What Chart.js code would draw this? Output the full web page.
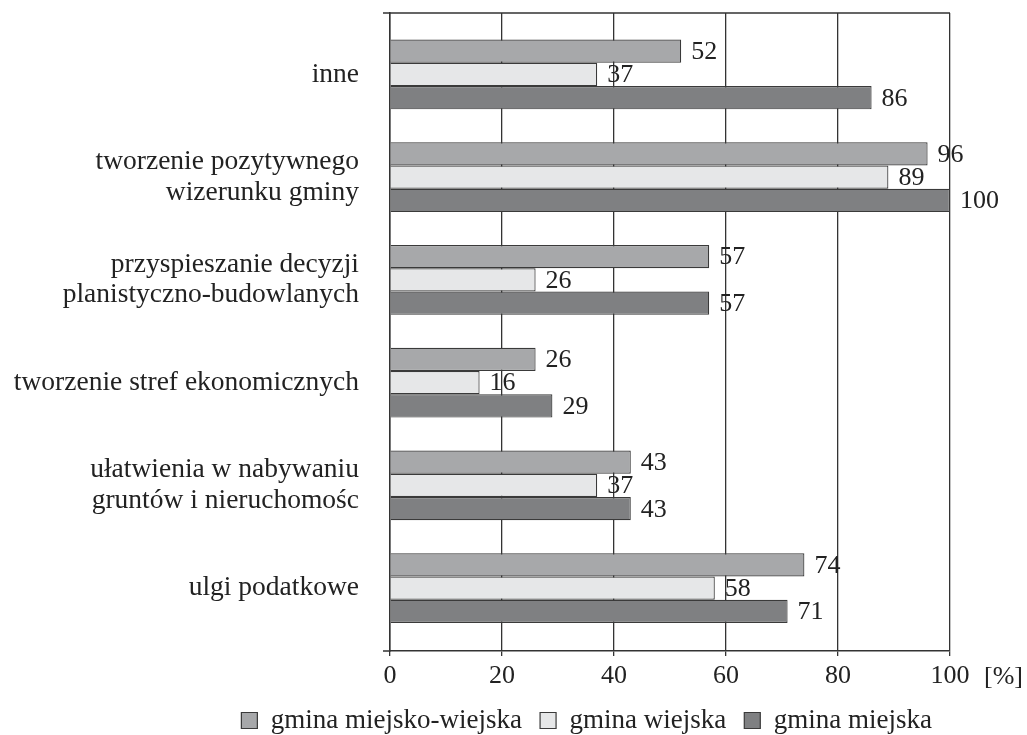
<!DOCTYPE html>
<html>
<head>
<meta charset="utf-8">
<script src="https://cdn.jsdelivr.net/npm/chart.js@4"></script>
<style>
  body { margin: 0; background: #fff; }
</style>
</head>
<body>
<canvas id="myChart" width="1027" height="735"></canvas>
<script>
const categories = [
  "inne",
  ["tworzenie pozytywnego", "wizerunku gminy"],
  ["przyspieszanie decyzji", "planistyczno-budowlanych"],
  "tworzenie stref ekonomicznych",
  ["ułatwienia w nabywaniu", "gruntów i nieruchomośc"],
  "ulgi podatkowe"
];
const seriesNames = ["gmina miejsko-wiejska", "gmina wiejska", "gmina miejska"];
const miejskoWiejska = [52, 96, 57, 26, 43, 74];
const wiejska = [37, 89, 26, 16, 37, 58];
const miejska = [86, 100, 57, 29, 43, 71];
const xTicks = [0, 20, 40, 60, 80, 100];

const barColors = ["#a7a8aa", "#e6e7e8", "#7f8082"];
const lineColor = "#333333";
const fontFamily = "'Liberation Serif', serif";

// value labels next to the bar ends
const valueLabels = {
  id: "valueLabels",
  afterDatasetsDraw(chart) {
    const ctx = chart.ctx;
    ctx.save();
    ctx.font = "26px " + fontFamily;
    ctx.fillStyle = "#222";
    ctx.textAlign = "left";
    ctx.textBaseline = "middle";
    chart.data.datasets.forEach((ds, i) => {
      chart.getDatasetMeta(i).data.forEach((bar, j) => {
        ctx.fillText(ds.data[j], bar.x + 10, bar.y + 1);
      });
    });
    ctx.restore();
  }
};

// top frame line, small axis extensions and the unit label
const frame = {
  id: "frame",
  afterDraw(chart) {
    const a = chart.chartArea;
    const ctx = chart.ctx;
    ctx.save();
    ctx.strokeStyle = lineColor;
    ctx.lineWidth = 1.5;
    ctx.beginPath();
    ctx.moveTo(a.left - 7, a.top);
    ctx.lineTo(a.right, a.top);
    ctx.moveTo(a.left - 7, a.bottom);
    ctx.lineTo(a.left, a.bottom);
    ctx.stroke();
    ctx.font = "26px " + fontFamily;
    ctx.fillStyle = "#222";
    ctx.textAlign = "left";
    ctx.textBaseline = "middle";
    ctx.fillText("[%]", a.right + 34, a.bottom + 26);
    ctx.restore();
  }
};

new Chart(document.getElementById("myChart").getContext("2d"), {
  type: "bar",
  data: {
    labels: categories,
    datasets: [
      { label: seriesNames[0], data: miejskoWiejska, backgroundColor: barColors[0] },
      { label: seriesNames[1], data: wiejska, backgroundColor: barColors[1] },
      { label: seriesNames[2], data: miejska, backgroundColor: barColors[2] }
    ]
  },
  options: {
    indexAxis: "y",
    responsive: false,
    animation: false,
    layout: { padding: { top: 13, right: 77, left: 0, bottom: -9 } },
    datasets: {
      bar: {
        borderColor: "#3a3a3a",
        borderWidth: 1.2,
        categoryPercentage: 0.68,
        barPercentage: 1
      }
    },
    scales: {
      x: {
        min: 0,
        max: 100,
        afterBuildTicks: (s) => { s.ticks = xTicks.map((v) => ({ value: v })); },
        afterFit: (s) => { s.height = 38; },
        grid: { color: lineColor, lineWidth: 1.3, tickLength: 5, drawTicks: true },
        border: { display: true, color: lineColor, width: 1.5 },
        ticks: { color: "#222", padding: 5, font: { family: fontFamily, size: 26 } }
      },
      y: {
        afterBuildTicks: (s) => {
          s._startValue = -0.598;
          s._valueRange = 6.21;
        },
        afterFit: (s) => {
          s.width = 390;
          s.paddingTop = 0;
          s.paddingBottom = 0;
        },
        grid: { display: false, drawTicks: false },
        border: { display: true, color: lineColor, width: 1.5 },
        ticks: {
          color: "#222",
          padding: 31,
          font: { family: fontFamily, size: 27.5, lineHeight: 1.1 }
        }
      }
    },
    plugins: {
      legend: {
        position: "bottom",
        align: "end",
        labels: {
          color: "#222",
          boxWidth: 16,
          boxHeight: 16,
          padding: 18,
          font: { family: fontFamily, size: 27 }
        }
      },
      tooltip: { enabled: false }
    }
  },
  plugins: [valueLabels, frame]
});
</script>
</body>
</html>
